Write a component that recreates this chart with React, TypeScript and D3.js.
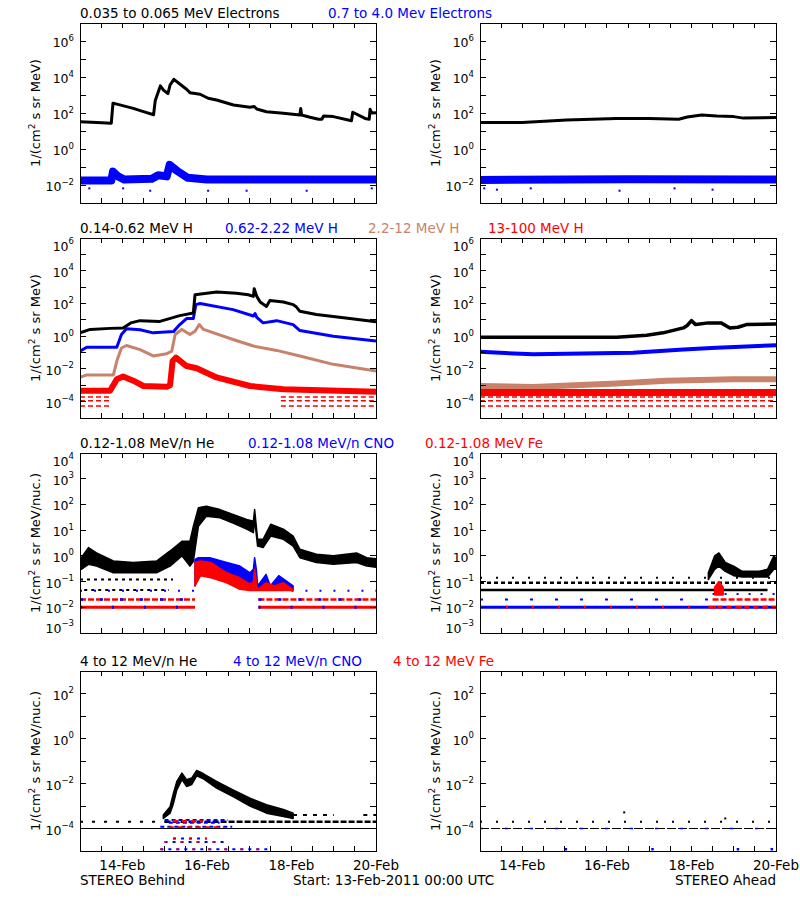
import React from 'react';
import * as d3 from 'd3';

const T0 = Date.UTC(2011, 1, 13);
const DAY_MS = 86400000;

// ---------------- DATA (day offset from 13-Feb-2011 00:00 UTC, flux) ----------------
// Row 1 : electrons
const eLowBehind = [[0,33],[0.4,30],[0.74,27],[0.78,350],[0.85,320],[1.26,180],[1.5,120],[1.74,80],[1.78,500],[1.9,3200],[1.97,1900],[2.08,1200],[2.13,3600],[2.22,7400],[2.36,4100],[2.52,2100],[2.6,1350],[2.84,1100],[3.03,660],[3.23,530],[3.63,280],[4.02,210],[4.12,230],[4.18,166],[4.41,118],[4.81,96],[5.2,78],[5.22,180],[5.24,78],[5.44,58],[5.64,45],[5.72,45],[5.76,68],[5.99,63],[6.42,37],[6.45,110],[6.74,50],[6.84,45],[6.86,160],[6.9,100],[7,105]];
const eHighBehind = [[0,0.018],[0.74,0.018],[0.78,0.055],[0.9,0.03],[1.05,0.02],[1.7,0.022],[1.85,0.035],[2.05,0.03],[2.12,0.13],[2.3,0.06],[2.55,0.025],[3.0,0.02],[7,0.02]];
const eHighBehindOut = [[0.22,0.0065],[1.02,0.0065],[1.66,0.0048],[3.03,0.0048],[3.94,0.0048],[5.36,0.0048],[6.9,0.0065]];
const eLowAhead = [[0,30],[1,30],[2.05,41],[3.23,50],[4.0,50],[4.7,45],[4.9,60],[5.24,78],[5.6,68],[6.0,63],[6.23,52],[7,57]];
const eHighAhead = [[0,0.019],[3.5,0.021],[7,0.02]];
const eHighAheadOut = [[0.1,0.0065],[0.4,0.0055],[1.2,0.0065],[3.3,0.0048],[4.6,0.0065],[5.5,0.0055]];

// Row 2 : protons
const hLowBehind = [[0,1.6],[0.24,2.6],[0.71,3.0],[1.02,3.2],[1.2,6.5],[1.42,8.9],[1.89,8.0],[2.36,18],[2.68,26],[2.72,340],[3.23,500],[3.7,420],[3.98,340],[4.1,270],[4.12,790],[4.18,270],[4.26,123],[4.41,66],[4.49,150],[4.81,123],[5.04,85],[5.12,60],[5.2,33],[5.59,21],[6.38,12],[7,7.6]];
const hMidBehind = [[0,0.12],[0.16,0.21],[0.87,0.21],[0.98,1.26],[1.1,2.8],[1.42,2.45],[1.73,1.6],[2.21,1.9],[2.36,5.1],[2.52,12],[2.68,12],[2.74,85],[2.84,100],[3.62,42],[4.1,17],[4.14,24],[4.18,14],[4.33,6.5],[4.65,8.9],[5.04,5.1],[5.2,2.2],[5.99,1.0],[7,0.5]];
const hHighBehind = [[0,0.003],[0.16,0.0043],[0.79,0.0043],[0.87,0.03],[0.98,0.19],[1.1,0.27],[1.42,0.15],[1.73,0.062],[2.05,0.085],[2.17,0.12],[2.25,1.26],[2.41,2.6],[2.6,1.26],[2.72,2.0],[2.82,5.1],[2.92,2.6],[3.62,0.63],[4.1,0.25],[4.65,0.135],[5.2,0.062],[5.99,0.019],[7,0.0074]];
const hTopBehind = [[0,0.00046],[0.71,0.00046],[0.87,0.0023],[1.02,0.0034],[1.26,0.0019],[1.5,0.0009],[2.05,0.0008],[2.13,0.001],[2.19,0.03],[2.27,0.049],[2.52,0.015],[2.76,0.011],[3.23,0.003],[4.02,0.0009],[4.81,0.00058],[7,0.0004]];
const hTopBehindFloor = [[0,0.75,0.000195],[0,0.75,0.000112],[0,0.75,0.000055],[4.75,7,0.000195],[4.75,7,0.000112],[4.75,7,0.000055]];
const hLowAhead = [[0,0.87],[3.23,0.85],[3.94,1.15],[4.33,1.6],[4.81,3.2],[4.9,4.5],[5.0,8.9],[5.1,5.1],[5.4,6.5],[5.7,6.5],[5.91,3.2],[6.1,3.5],[6.3,5.1],[7,5.5]];
const hMidAhead = [[0,0.11],[1.26,0.078],[3.62,0.098],[4.81,0.155],[5.59,0.195],[7,0.28]];
const hHighAhead = [[0,0.0009],[1.26,0.00078],[3.23,0.0013],[4.41,0.0019],[5.99,0.0023],[7,0.0023]];
const hTopAhead = [[0,0.00036],[7,0.00036]];
const hTopAheadFloor = [[0,7,0.000195],[0,7,0.000112],[0,7,0.000055]];

// Row 3 : 0.12-1.08 MeV/n ions  [day, upper, lower]
const heLowBehind = [[0.03,0.85,0.3],[0.2,2.1,0.47],[0.39,1.3,0.4],[0.79,0.63,0.22],[1.26,0.55,0.22],[1.81,0.63,0.22],[2.13,1.55,0.4],[2.41,3.7,1.0],[2.6,3.7,0.4],[2.68,14,0.6],[2.8,74,14],[2.99,85,35],[3.31,63,30],[3.62,41,19],[3.94,26,11],[4.1,22,8],[4.13,63,26],[4.2,4.4,2.4],[4.33,4.4,2.1],[4.51,17,5.9],[4.81,11,4.4],[5.04,5.9,2.4],[5.2,1.8,0.85],[5.59,1.15,0.55],[5.99,1.0,0.47],[6.54,1.3,0.55],[6.78,0.85,0.4],[7,0.78,0.36]];
const heLowBehindRows = [[0,2.2,0.12],[0.1,2.1,0.047]];
const cnoLowBehind = [[2.72,0.72,0.068],[2.8,0.85,0.22],[3.07,0.85,0.3],[3.47,0.55,0.22],[3.78,0.4,0.12],[4.02,0.22,0.09],[4.1,0.3,0.07],[4.13,0.85,0.07],[4.17,0.3,0.06],[4.2,0.068,0.05],[4.4,0.19,0.05],[4.5,0.068,0.05],[4.7,0.17,0.05],[5.04,0.068,0.05]];
const feLowBehind = [[2.72,0.55,0.068],[2.85,0.63,0.17],[3.1,0.55,0.14],[3.47,0.22,0.09],[3.78,0.14,0.05],[4.02,0.08,0.045],[4.1,0.1,0.045],[4.13,0.3,0.045],[4.17,0.1,0.045],[4.2,0.05,0.045],[4.4,0.09,0.045],[4.6,0.068,0.045],[4.8,0.09,0.045],[5.04,0.05,0.045]];
const ionFloorBehind1 = [[0,2.72,0.01],[4.22,7,0.01]];
const ionFloorBehind2 = [[0,2.72,0.02],[4.22,7,0.02]];
const ionFloorBehind3 = [[0,2.72,0.044],[5.0,7,0.044]];
const heLowAheadFloor = [[0,6.8,0.047]];
const heLowAheadRows = [[0,7,0.09]];
const heLowAheadSparse = [[0,7,0.14]];
const heLowAhead = [[5.4,0.22,0.12],[5.55,1.0,0.3],[5.65,1.3,0.4],[5.8,0.55,0.25],[6.0,0.4,0.17],[6.2,0.25,0.15],[6.6,0.25,0.15],[6.8,0.3,0.15],[6.95,1.0,0.3],[7,0.8,0.3]];
const ionAheadEvent = [[5.55,0.06,0.03],[5.65,0.1,0.03],[5.75,0.06,0.03]];
const ionFloorAhead1 = [[0,7,0.01]];
const ionFloorAhead1Red = [[5.4,7,0.01]];
const ionFloorAhead2Blue = [[0,5.5,0.02]];
const ionFloorAhead2Red = [[5.5,7,0.02]];
const ionFloorAhead3 = [[5.5,7,0.033]];

// Row 4 : 4-12 MeV/n ions
const heHighBehind = [[1.97,0.0004,0.00028],[2.13,0.00093,0.00048],[2.21,0.0037,0.0013],[2.29,0.0123,0.0052],[2.41,0.029,0.0148],[2.52,0.0148,0.0074],[2.64,0.0174,0.009],[2.76,0.038,0.022],[2.92,0.027,0.016],[3.23,0.0123,0.0063],[3.62,0.0052,0.0026],[4.02,0.0022,0.001],[4.41,0.00115,0.00048],[4.81,0.0007,0.00034],[5.04,0.00048,0.00028]];
const heHighFloor = [[0,7,0.0001]];
const heHighSparse = [[0,2,0.0002]];
const heHighRow = [[2,7,0.0002]];
const heHighRow2 = [[4.8,6.0,0.0004],[6.7,7,0.0004]];
const cnoHighRows = [[2.0,3.5,0.00024],[2.1,3.3,0.00018],[1.9,3.6,0.00012]];
const feHighRows = [[2.1,3.4,0.00011],[2.2,2.9,0.00021]];
const ionHighLowRows = [[2.2,3.0,3.6e-5],[2.0,3.4,2.5e-5],[1.9,4.5,1.2e-5]];
const heHighAheadSparse = [[0,7,0.0002]];
const heHighAheadDots = [[3.41,0.00052],[5.8,0.00028]];
const cnoHighAheadDots = [[2.03,1.2e-5],[4.08,1.2e-5],[6.1,1.2e-5],[6.9,1.2e-5]];

// Axes / labels
const yDomains = [[1e-3, 1e7], [1e-5, 1e6], [1e-3, 1e4], [1e-5, 1e3]];
const yLabelExps = [[-2, 0, 2, 4, 6], [-4, -2, 0, 2, 4, 6], [-3, -2, -1, 0, 1, 2, 3, 4], [-4, -2, 0, 2]];
const xLabelDays = [1, 3, 5, 7];
const yTitles = ['MeV)', 'MeV)', 'MeV/nuc.)', 'MeV/nuc.)'];

const BLACK = '#000000', BLUE = '#0000ff', BROWN = '#c8826a', RED = '#ff0000';

const titleRows = [
  [{ t: '0.035 to 0.065 MeV Electrons', x: 80, c: BLACK }, { t: '0.7 to 4.0 Mev Electrons', x: 328, c: BLUE }],
  [{ t: '0.14-0.62 MeV H', x: 80, c: BLACK }, { t: '0.62-2.22 MeV H', x: 225, c: BLUE }, { t: '2.2-12 MeV H', x: 368, c: BROWN }, { t: '13-100 MeV H', x: 488, c: RED }],
  [{ t: '0.12-1.08 MeV/n He', x: 80, c: BLACK }, { t: '0.12-1.08 MeV/n CNO', x: 248, c: BLUE }, { t: '0.12-1.08 MeV Fe', x: 425, c: RED }],
  [{ t: '4 to 12 MeV/n He', x: 80, c: BLACK }, { t: '4 to 12 MeV/n CNO', x: 233, c: BLUE }, { t: '4 to 12 MeV Fe', x: 393, c: RED }],
];

type S = { kind: 'line' | 'band' | 'level' | 'dots'; data: number[][]; color: string; w?: number; dash?: string };

const seriesGrid: S[][][] = [
  [
    [
      { kind: 'line', data: eLowBehind, color: BLACK, w: 3 },
      { kind: 'line', data: eHighBehind, color: BLUE, w: 8 },
      { kind: 'dots', data: eHighBehindOut, color: BLUE, w: 2 },
    ],
    [
      { kind: 'line', data: eLowAhead, color: BLACK, w: 3 },
      { kind: 'line', data: eHighAhead, color: BLUE, w: 8 },
      { kind: 'dots', data: eHighAheadOut, color: BLUE, w: 2 },
    ],
  ],
  [
    [
      { kind: 'level', data: hTopBehindFloor, color: RED, w: 1.5, dash: '5 3' },
      { kind: 'line', data: hTopBehind, color: RED, w: 6 },
      { kind: 'line', data: hHighBehind, color: BROWN, w: 3 },
      { kind: 'line', data: hMidBehind, color: BLUE, w: 3 },
      { kind: 'line', data: hLowBehind, color: BLACK, w: 3 },
    ],
    [
      { kind: 'level', data: hTopAheadFloor, color: RED, w: 1.5, dash: '5 3' },
      { kind: 'line', data: hHighAhead, color: BROWN, w: 6 },
      { kind: 'line', data: hTopAhead, color: RED, w: 7 },
      { kind: 'line', data: hMidAhead, color: BLUE, w: 4 },
      { kind: 'line', data: hLowAhead, color: BLACK, w: 3.5 },
    ],
  ],
  [
    [
      { kind: 'level', data: heLowBehindRows, color: BLACK, w: 2, dash: '3 4' },
      { kind: 'band', data: heLowBehind, color: BLACK },
      { kind: 'level', data: ionFloorBehind3, color: BLUE, w: 2, dash: '2 12' },
      { kind: 'level', data: ionFloorBehind2, color: RED, w: 2.5, dash: '6 2' },
      { kind: 'level', data: ionFloorBehind2, color: BLUE, w: 2.5, dash: '3 17' },
      { kind: 'level', data: ionFloorBehind1, color: RED, w: 3 },
      { kind: 'level', data: ionFloorBehind1, color: BLUE, w: 3, dash: '2 30' },
      { kind: 'band', data: cnoLowBehind, color: BLUE },
      { kind: 'band', data: feLowBehind, color: RED },
    ],
    [
      { kind: 'level', data: heLowAheadSparse, color: BLACK, w: 2, dash: '2 14' },
      { kind: 'level', data: heLowAheadRows, color: BLACK, w: 2.5, dash: '4 3' },
      { kind: 'level', data: heLowAheadFloor, color: BLACK, w: 2.5 },
      { kind: 'band', data: heLowAhead, color: BLACK },
      { kind: 'level', data: ionFloorAhead3, color: BLUE, w: 2, dash: '2 10' },
      { kind: 'level', data: ionFloorAhead2Blue, color: BLUE, w: 2, dash: '3 22' },
      { kind: 'level', data: ionFloorAhead2Red, color: RED, w: 2.5, dash: '6 2' },
      { kind: 'level', data: ionFloorAhead1, color: BLUE, w: 3 },
      { kind: 'level', data: ionFloorAhead1, color: RED, w: 3, dash: '2 24' },
      { kind: 'level', data: ionFloorAhead1Red, color: RED, w: 3, dash: '5 4' },
      { kind: 'band', data: ionAheadEvent, color: RED },
    ],
  ],
  [
    [
      { kind: 'level', data: heHighSparse, color: BLACK, w: 2, dash: '3 9' },
      { kind: 'level', data: heHighRow, color: BLACK, w: 2.5, dash: '6 2' },
      { kind: 'level', data: heHighRow2, color: BLACK, w: 2, dash: '4 6' },
      { kind: 'band', data: heHighBehind, color: BLACK },
      { kind: 'level', data: cnoHighRows, color: BLUE, w: 2, dash: '4 3' },
      { kind: 'level', data: feHighRows, color: RED, w: 2.5, dash: '5 4' },
      { kind: 'level', data: heHighFloor, color: BLACK, w: 1.2 },
      { kind: 'level', data: ionHighLowRows, color: BLUE, w: 2, dash: '3 5' },
      { kind: 'level', data: ionHighLowRows, color: RED, w: 2, dash: '2 14' },
    ],
    [
      { kind: 'level', data: heHighAheadSparse, color: BLACK, w: 2, dash: '2 14' },
      { kind: 'level', data: heHighFloor, color: BLACK, w: 1.2, dash: '9 2' },
      { kind: 'level', data: heHighFloor, color: BLUE, w: 1.5, dash: '3 22' },
      { kind: 'dots', data: heHighAheadDots, color: BLACK, w: 2 },
      { kind: 'dots', data: cnoHighAheadDots, color: BLUE, w: 2.5 },
    ],
  ],
];

const W = 296, H = 180;
const panelTops = [23, 238, 453, 671];
const panelLefts = [80, 480];

function fmtExp(k: number) {
  return k < 0 ? '\u2212' + Math.abs(k) : String(k);
}

function Panel({ row, col }: { row: number; col: number }) {
  const x0 = panelLefts[col], y0 = panelTops[row];
  const domain = yDomains[row];
  const x = d3.scaleUtc().domain([new Date(T0), new Date(T0 + 7 * DAY_MS)]).range([x0, x0 + W]);
  const y = d3.scaleLog().domain(domain).range([y0 + H, y0]);
  const t = (d: number) => new Date(T0 + d * DAY_MS);
  const clipId = `clip-${row}-${col}`;
  const line = d3.line<number[]>().x(d => x(t(d[0]))).y(d => y(d[1]));
  const area = d3.area<number[]>().x(d => x(t(d[0]))).y0(d => y(d[2])).y1(d => y(d[1]));
  const lo = Math.round(Math.log10(domain[0])), hi = Math.round(Math.log10(domain[1]));
  const decades = d3.range(lo, hi + 1).map(k => Math.pow(10, k));
  const xt = x.ticks(d3.utcHour.every(12) as any);
  const series = seriesGrid[row][col];
  const showX = row === 3;
  const labelCenter = (v: number) => Math.min(Math.max(y(v) + 1.5, y0 + 8), y0 + H - 5);
  return (
    <g>
      <defs>
        <clipPath id={clipId}>
          <rect x={x0} y={y0} width={W} height={H} />
        </clipPath>
      </defs>
      <g clipPath={`url(#${clipId})`}>
        {series.map((s, i) => {
          if (s.kind === 'line') {
            return <path key={i} d={line(s.data) || ''} fill="none" stroke={s.color} strokeWidth={s.w} strokeDasharray={s.dash} strokeLinejoin="round" />;
          }
          if (s.kind === 'band') {
            return <path key={i} d={area(s.data) || ''} fill={s.color} stroke={s.color} strokeWidth={1.5} strokeLinejoin="round" />;
          }
          if (s.kind === 'level') {
            return (
              <g key={i}>
                {s.data.map((d, j) => (
                  <line key={j} x1={x(t(d[0]))} x2={x(t(d[1]))} y1={y(d[2])} y2={y(d[2])} stroke={s.color} strokeWidth={s.w} strokeDasharray={s.dash} />
                ))}
              </g>
            );
          }
          return (
            <g key={i}>
              {s.data.map((d, j) => (
                <rect key={j} x={x(t(d[0])) - (s.w || 2) / 2} y={y(d[1]) - (s.w || 2) / 2} width={s.w} height={s.w} fill={s.color} />
              ))}
            </g>
          );
        })}
      </g>
      <rect x={x0} y={y0} width={W} height={H} fill="none" stroke="#000" strokeWidth={1} shapeRendering="crispEdges" />
      {decades.map((v, i) => (
        <g key={'yt' + i} shapeRendering="crispEdges">
          <line x1={x0} x2={x0 + 6} y1={y(v)} y2={y(v)} stroke="#000" />
          <line x1={x0 + W - 6} x2={x0 + W} y1={y(v)} y2={y(v)} stroke="#000" />
        </g>
      ))}
      {xt.map((d, i) => (
        <g key={'xt' + i} shapeRendering="crispEdges">
          <line x1={x(d)} x2={x(d)} y1={y0} y2={y0 + 5} stroke="#000" />
          <line x1={x(d)} x2={x(d)} y1={y0 + H - 5} y2={y0 + H} stroke="#000" />
        </g>
      ))}
      {yLabelExps[row].map(k => (
        <text key={'yl' + k} x={x0 - 6} y={labelCenter(Math.pow(10, k)) + 4.5} textAnchor="end" fontSize={12.5}>
          10<tspan dy={-6.5} fontSize={8.5}>{fmtExp(k)}</tspan>
        </text>
      ))}
      <text transform={`translate(${x0 - 40},${y0 + H / 2}) rotate(-90)`} textAnchor="middle" fontSize={13}>
        1/(cm<tspan dy={-5} fontSize={9}>2</tspan><tspan dy={5}>{' s sr ' + yTitles[row]}</tspan>
      </text>
      {showX && xLabelDays.map(dd => (
        <text key={'xl' + dd} x={x(t(dd))} y={y0 + H + 19} textAnchor="middle" fontSize={13.5}>
          {d3.utcFormat('%d-%b')(t(dd))}
        </text>
      ))}
    </g>
  );
}

export default function App() {
  return (
    <svg width={800} height={900} style={{ position: 'absolute', left: 0, top: 0, background: '#fff' }} fontFamily="DejaVu Sans">
      <rect x={0} y={0} width={800} height={900} fill="#fff" />
      {titleRows.map((row, r) => (
        <g key={'tr' + r}>
          {row.map((tt, i) => (
            <text key={i} x={tt.x} y={panelTops[r] - 5} fill={tt.c} fontSize={13.5}>{tt.t}</text>
          ))}
        </g>
      ))}
      {[0, 1, 2, 3].map(r => [0, 1].map(c => <Panel key={r + '-' + c} row={r} col={c} />))}
      <text x={80} y={885} fontSize={13.5}>STEREO Behind</text>
      <text x={293} y={885} fontSize={13.5}>Start: 13-Feb-2011 00:00 UTC</text>
      <text x={776} y={885} textAnchor="end" fontSize={13.5}>STEREO Ahead</text>
    </svg>
  );
}
